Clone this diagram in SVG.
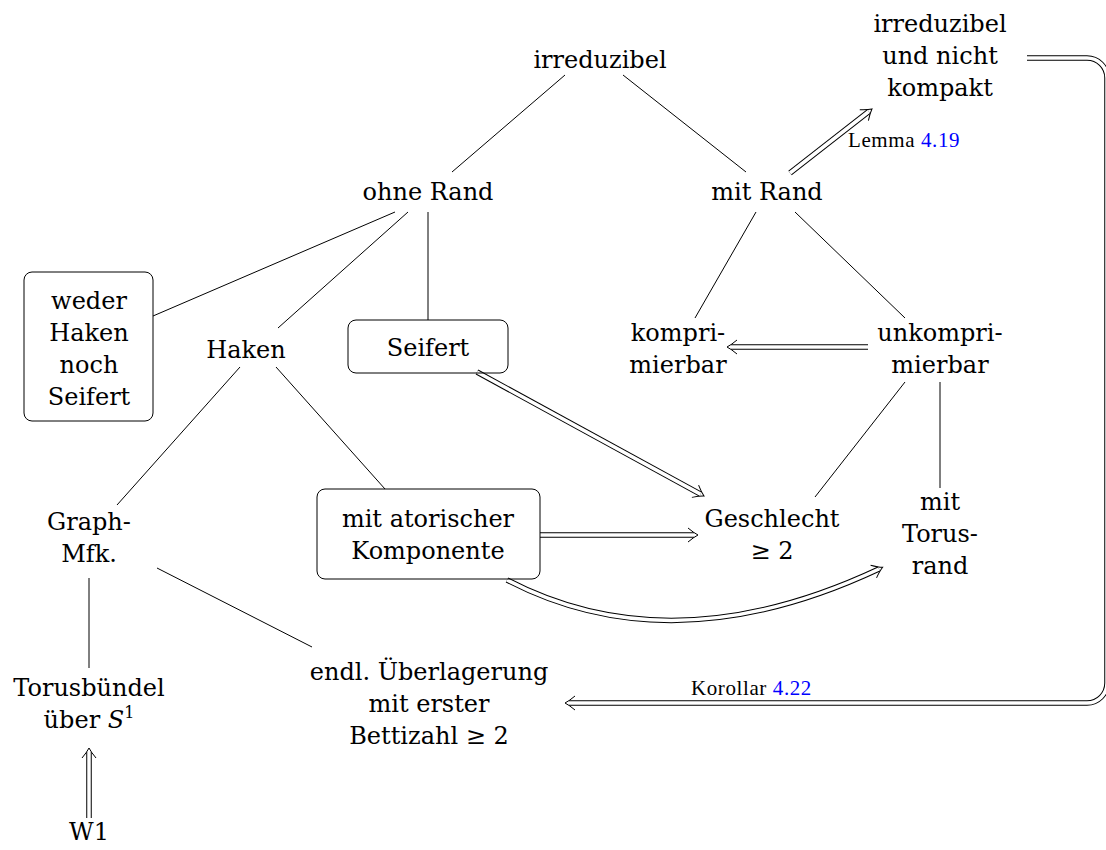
<svg xmlns="http://www.w3.org/2000/svg" width="1106" height="850" viewBox="0 0 1106 850">
<style>
text{font-family:'DejaVu Serif','Liberation Serif',serif;font-size:24px;fill:#000;text-anchor:middle}
text.lbl{font-family:'Liberation Serif','DejaVu Serif',serif;font-size:21px;letter-spacing:0.6px;text-anchor:start}
.ref{fill:#0000ff}
.box{fill:none;stroke:#000;stroke-width:1}
.ln{fill:none;stroke:#000;stroke-width:1}
.out{fill:none;stroke:#000;stroke-width:5.5;marker-end:url(#imp)}
.in{fill:none;stroke:#fff;stroke-width:3.5}
</style>
<defs>
<marker id="imp" markerUnits="userSpaceOnUse" viewBox="-12 -9 16 18" markerWidth="16" markerHeight="18" refX="-4" refY="0" orient="auto" overflow="visible">
<path d="M-10,-7 Q-4,-2 0,0 Q-4,2 -10,7" fill="none" stroke="#000" stroke-width="1"/>
</marker>
</defs>
<rect width="1106" height="850" fill="#fff"/>
<g id="connectors">
<path class="ln" d="M565,75 L452,172"/>
<path class="ln" d="M623,75 L746,172"/>
<path class="ln" d="M395,212 L153,316"/>
<path class="ln" d="M408,212 L278,328"/>
<path class="ln" d="M428,212 L428,320"/>
<path class="ln" d="M756,212 L695,318"/>
<path class="ln" d="M795,212 L905,318"/>
<path class="ln" d="M240,367 L117,505"/>
<path class="ln" d="M276,367 L385,489"/>
<path class="ln" d="M89,578 L89,668"/>
<path class="ln" d="M157,568 L312,647"/>
<path class="ln" d="M905,382 L815,497"/>
<path class="ln" d="M940,382 L940,488"/>
<path class="out" d="M790,173 L868.8,111.5"/><path class="in" d="M790,173 L868.8,111.5"/>
<path class="out" d="M868,347 L731,347"/><path class="in" d="M868,347 L731,347"/>
<path class="out" d="M477,372 L700.5,494.1"/><path class="in" d="M477,372 L700.5,494.1"/>
<path class="out" d="M540,535 L694,535"/><path class="in" d="M540,535 L694,535"/>
<path class="out" d="M507,580 Q672,666 879,569"/><path class="in" d="M507,580 Q672,666 879,569"/>
<path class="out" d="M89,818 L89,752"/><path class="in" d="M89,818 L89,752"/>
<path class="out" d="M1027,58 H1087 A20,20 0 0 1 1107,78 V683 A20,20 0 0 1 1087,703 H569"/><path class="in" d="M1027,58 H1087 A20,20 0 0 1 1107,78 V683 A20,20 0 0 1 1087,703 H569"/>
<text class="lbl" x="848" y="147">Lemma <tspan class="ref">4.19</tspan></text>
<text class="lbl" x="691" y="695">Korollar <tspan class="ref">4.22</tspan></text>
</g>
<g id="irreduzibel"><text x="600" y="68">irreduzibel</text></g>
<g id="kompakt"><text x="940" y="32">irreduzibel</text><text x="940" y="64">und nicht</text><text x="940" y="96">kompakt</text></g>
<g id="ohneRand"><text x="428" y="200">ohne Rand</text></g>
<g id="mitRand"><text x="767" y="200">mit Rand</text></g>
<g id="weder"><rect class="box" x="24" y="272" width="129" height="149" rx="8"/><text x="89" y="309">weder</text><text x="89" y="341">Haken</text><text x="89" y="373">noch</text><text x="89" y="405">Seifert</text></g>
<g id="haken"><text x="246" y="358">Haken</text></g>
<g id="seifert"><rect class="box" x="348" y="320" width="160" height="53" rx="8"/><text x="428" y="356">Seifert</text></g>
<g id="kompri"><text x="678" y="341">kompri-</text><text x="678" y="373">mierbar</text></g>
<g id="unkompri"><text x="940" y="341">unkompri-</text><text x="940" y="373">mierbar</text></g>
<g id="graph"><text x="89" y="530">Graph-</text><text x="89" y="562">Mfk.</text></g>
<g id="atorisch"><rect class="box" x="317" y="489" width="223" height="90" rx="8"/><text x="428" y="527">mit atorischer</text><text x="428" y="559">Komponente</text></g>
<g id="geschlecht"><text x="772" y="527">Geschlecht</text><text x="772" y="559">≥ 2</text></g>
<g id="torusrand"><text x="940" y="510">mit</text><text x="940" y="542">Torus-</text><text x="940" y="574">rand</text></g>
<g id="torusbuendel"><text x="89" y="696">Torusbündel</text><text x="89" y="728">über <tspan font-style="italic">S</tspan><tspan font-size="16" dy="-10">1</tspan></text></g>
<g id="endl"><text x="429" y="680">endl. Überlagerung</text><text x="429" y="712">mit erster</text><text x="429" y="744">Bettizahl ≥ 2</text></g>
<g id="w1"><text x="89" y="840">W1</text></g>
</svg>
